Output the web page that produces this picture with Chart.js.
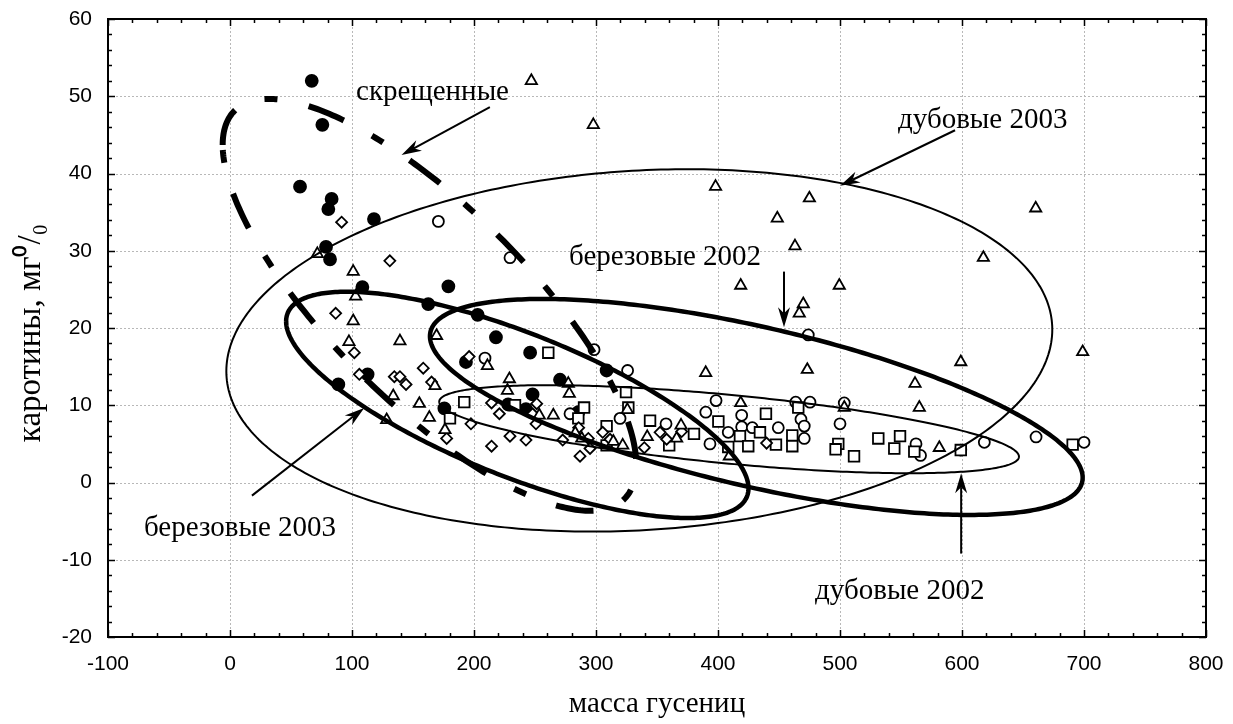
<!DOCTYPE html>
<html>
<head>
<meta charset="utf-8">
<script src="https://cdn.jsdelivr.net/npm/chart.js@4.4.1/dist/chart.umd.min.js"></script>
<style>
  html, body { margin: 0; padding: 0; background: #fff; }
</style>
</head>
<body>
<canvas id="chart" width="1233" height="724"></canvas>
<script>
// axis ticks
const xTicks = [-100, 0, 100, 200, 300, 400, 500, 600, 700, 800];
const yTicks = [-20, -10, 0, 10, 20, 30, 40, 50, 60];

// скрещенные (filled circles)
const crossedX = [67, 75.7, 57.4, 83.3, 80.6, 118, 78.7, 82, 108.5, 112.8, 88.8, 179, 162.5, 203, 218, 246, 193.4, 270.5, 248, 228, 242.6, 285.5, 175.7, 308.7];
const crossedY = [52, 46.3, 38.3, 36.7, 35.4, 34.1, 30.5, 28.9, 25.3, 14.0, 12.7, 25.4, 23.1, 21.7, 18.8, 16.8, 15.6, 13.3, 11.4, 10.1, 9.5, 9.1, 9.6, 14.5];

// open circles
const circleX = [170.8, 229.5, 209, 298.4, 325.9, 278.7, 319.7, 357.4, 398.4, 390, 408.4, 393.4, 419.4, 419.4, 428.1, 449.4, 463.7, 475.4, 468, 470.7, 470.7, 474, 503.5, 500, 562.3, 566, 618.3, 660.7, 700, 599];
const circleY = [33.8, 29.1, 16.1, 17.2, 14.5, 8.9, 8.3, 7.6, 10.6, 9.1, 6.5, 5.0, 8.7, 7.2, 7.1, 7.1, 10.4, 10.4, 8.2, 7.3, 5.7, 19.1, 10.3, 7.6, 5.0, 3.5, 5.2, 5.9, 5.2, 4.2];

// open squares
const squareX = [260.9, 192, 180.3, 233.6, 290.2, 285.5, 324.6, 326.5, 308.7, 308.7, 344.3, 380.3, 360, 400.3, 408.4, 418, 424.8, 434.4, 439.3, 447.5, 460.9, 460.9, 465.8, 498.6, 496.4, 511.5, 531.4, 549.2, 544.5, 560.9, 599, 690.7];
const squareY = [16.8, 10.4, 8.3, 10.0, 9.7, 8.3, 11.7, 9.7, 7.3, 4.8, 8.0, 6.3, 4.8, 7.9, 4.6, 6.0, 4.7, 6.5, 8.9, 4.9, 6.1, 4.7, 9.7, 5.0, 4.3, 3.4, 5.7, 6.0, 4.4, 4.0, 4.2, 4.9];

// open diamonds
const diamondX = [91.5, 131, 86.6, 101.9, 106, 134.7, 139.3, 144.3, 158.4, 165.2, 196, 177.6, 197.5, 214.4, 214.4, 220.8, 229.5, 242.6, 251.4, 250.8, 248, 272.7, 285.8, 286.9, 295.1, 293.7, 305.5, 311.5, 339.6, 352.5, 357.9, 370.2, 439.8];
const diamondY = [33.7, 28.7, 21.9, 16.8, 14.0, 13.7, 13.7, 12.7, 14.8, 13.0, 16.3, 5.7, 7.6, 4.7, 10.3, 8.9, 6.0, 5.5, 10.2, 7.6, 8.9, 5.5, 7.1, 3.4, 4.4, 5.7, 6.5, 5.6, 4.5, 6.5, 5.6, 6.6, 5.1];

// open triangles
const triangleX = [247, 297.8, 398, 474.9, 448.6, 463.1, 660.4, 617.5, 418.6, 469.9, 466.6, 473.2, 389.9, 418.6, 169.3, 139.3, 211, 229, 227.4, 277.3, 278.1, 168, 155.2, 163.4, 176.2, 253.5, 265, 325.7, 283, 288.3, 314.2, 321.9, 342, 369.7, 366.1, 409.3, 71.6, 101, 103, 101, 97.5, 133.8, 128.4, 499.4, 698.9, 599, 561.5, 565, 503.5, 581.4];
const triangleY = [52.0, 46.3, 38.3, 36.8, 34.2, 30.6, 35.5, 29.1, 25.5, 23.1, 21.9, 14.6, 14.2, 10.3, 19.0, 18.3, 15.1, 13.4, 11.9, 12.8, 11.5, 12.5, 10.2, 8.4, 6.8, 8.7, 8.7, 9.4, 6.4, 5.7, 5.3, 4.8, 5.9, 7.4, 5.7, 3.4, 29.6, 27.3, 24.1, 20.9, 18.2, 11.2, 8.1, 25.5, 16.9, 15.6, 12.8, 9.7, 9.7, 4.5];

// confidence ellipses: centre and two conjugate half-axes (data units)
const ellipseNames  = ['дубовые 2003', 'дубовые 2002', 'березовые 2003', 'березовые 2002', 'скрещенные'];
const ellipseCenter = [[335.5, 17.1], [409.1, 6.9], [235.5, 10.05], [431.4, 9.78], [163.5, 23.0]];
const ellipseAxisU  = [[338.5, 2.7], [237.6, -3.55], [189.5, -10.8], [267.5, -9.15], [169.5, -20.7]];
const ellipseAxisV  = [[0, 23.3], [0, 4.46], [0, 9.9], [0, 10.57], [0, 16.8]];
const ellipseWidth  = [2, 2, 4.5, 4.5, 6];

// annotations: label position and arrow (from -> to)
const labelText = ['скрещенные', 'дубовые 2003', 'березовые 2002', 'березовые 2003', 'дубовые 2002'];
const labelX = [166, 617, 356.6, 8.2, 549];
const labelY = [49.5, 45.9, 28.2, -6.9, -15.1];
const arrowFrom = [[213, 48.6], [594.3, 45.6], [454.1, 27.3], [18, -1.7], [599.3, -9.2]];
const arrowTo   = [[140.6, 42.4], [500, 38.4], [454.1, 20.1], [110, 9.65], [599.3, 1.2]];

function pts(xs, ys) {
    return xs.map((v, i) => ({ x: v, y: ys[i] }));
}

function drawEllipse(chart, i) {
    const ctx = chart.ctx;
    const sx = chart.scales.x, sy = chart.scales.y;
    const c = ellipseCenter[i], u = ellipseAxisU[i], v = ellipseAxisV[i];
    ctx.beginPath();
    const n = 360;
    for (let k = 0; k <= n; k++) {
        const t = Math.PI - k / n * 2 * Math.PI;
        const px = sx.getPixelForValue(c[0] + u[0] * Math.cos(t) + v[0] * Math.sin(t));
        const py = sy.getPixelForValue(c[1] + u[1] * Math.cos(t) + v[1] * Math.sin(t));
        if (k === 0) ctx.moveTo(px, py); else ctx.lineTo(px, py);
    }
    ctx.lineWidth = ellipseWidth[i];
    ctx.strokeStyle = '#000';
    if (ellipseNames[i] === 'скрещенные') {
        ctx.setLineDash([38, 32, 13, 32]);
        ctx.lineCap = 'butt';
    } else {
        ctx.setLineDash([]);
    }
    ctx.stroke();
    ctx.setLineDash([]);
}

function drawArrow(ctx, x0, y0, x1, y1) {
    const a = Math.atan2(y1 - y0, x1 - x0);
    const dx = Math.cos(a), dy = Math.sin(a);
    const L = 20, W = 6, N = 14;
    ctx.beginPath();
    ctx.moveTo(x0, y0);
    ctx.lineTo(x1 - dx * N, y1 - dy * N);
    ctx.lineWidth = 2;
    ctx.stroke();
    ctx.beginPath();
    ctx.moveTo(x1, y1);
    ctx.lineTo(x1 - dx * L - dy * W, y1 - dy * L + dx * W);
    ctx.lineTo(x1 - dx * N, y1 - dy * N);
    ctx.lineTo(x1 - dx * L + dy * W, y1 - dy * L - dx * W);
    ctx.closePath();
    ctx.fill();
}

const decorations = {
    id: 'decorations',
    beforeDatasetsDraw(chart) {
        const { ctx, chartArea: a, scales: { x, y } } = chart;
        ctx.save();
        ctx.strokeStyle = '#b8b8b8';
        ctx.lineWidth = 1;
        ctx.setLineDash([2, 2]);
        xTicks.forEach(v => {
            const px = Math.round(x.getPixelForValue(v)) + 0.5;
            ctx.beginPath(); ctx.moveTo(px, a.top); ctx.lineTo(px, a.bottom); ctx.stroke();
        });
        yTicks.forEach(v => {
            const py = Math.round(y.getPixelForValue(v)) + 0.5;
            ctx.beginPath(); ctx.moveTo(a.left, py); ctx.lineTo(a.right, py); ctx.stroke();
        });
        ctx.restore();
    },
    afterDatasetsDraw(chart) {
        const { ctx, chartArea: a, scales: { x, y } } = chart;
        ctx.save();
        for (let i = 0; i < ellipseNames.length; i++) drawEllipse(chart, i);

        ctx.fillStyle = '#000';
        ctx.strokeStyle = '#000';
        arrowFrom.forEach((f, i) => {
            drawArrow(ctx, x.getPixelForValue(f[0]), y.getPixelForValue(f[1]),
                x.getPixelForValue(arrowTo[i][0]), y.getPixelForValue(arrowTo[i][1]));
        });

        ctx.font = '29px "Liberation Serif", "Times New Roman", serif';
        ctx.textAlign = 'center';
        ctx.textBaseline = 'alphabetic';
        labelText.forEach((t, i) => {
            ctx.fillText(t, x.getPixelForValue(labelX[i]), y.getPixelForValue(labelY[i]));
        });

        // axis titles
        ctx.fillText('масса гусениц', (a.left + a.right) / 2, 712);
        ctx.save();
        ctx.translate(40, 333);
        ctx.rotate(-Math.PI / 2);
        ctx.font = '33px "Liberation Serif", "Times New Roman", serif';
        ctx.fillText('каротины, мг⁰/₀', 0, 0);
        ctx.restore();

        // frame with inward ticks
        ctx.lineWidth = 2;
        ctx.strokeRect(a.left, a.top, a.right - a.left, a.bottom - a.top);
        ctx.lineWidth = 1.5;
        for (let v = -100; v <= 800; v += 20) {
            const px = Math.round(x.getPixelForValue(v)) + 0.5;
            const len = v % 100 === 0 ? 7 : 4;
            ctx.beginPath();
            ctx.moveTo(px, a.bottom); ctx.lineTo(px, a.bottom - len);
            ctx.moveTo(px, a.top); ctx.lineTo(px, a.top + len);
            ctx.stroke();
        }
        for (let v = -20; v <= 60; v += 2) {
            const py = Math.round(y.getPixelForValue(v)) + 0.5;
            const len = v % 10 === 0 ? 7 : 4;
            ctx.beginPath();
            ctx.moveTo(a.left, py); ctx.lineTo(a.left + len, py);
            ctx.moveTo(a.right, py); ctx.lineTo(a.right - len, py);
            ctx.stroke();
        }
        ctx.restore();
    }
};

const markerBase = { borderColor: '#000', borderWidth: 1.8, backgroundColor: '#fff', showLine: false };

new Chart(document.getElementById('chart'), {
    type: 'scatter',
    data: {
        datasets: [
            Object.assign({}, markerBase, { label: 'дубовые 2003', data: pts(triangleX, triangleY), pointStyle: 'triangle', pointRadius: 6.5 }),
            Object.assign({}, markerBase, { label: 'березовые 2003', data: pts(diamondX, diamondY), pointStyle: 'rectRot', pointRadius: 5.5 }),
            Object.assign({}, markerBase, { label: 'дубовые 2002', data: pts(squareX, squareY), pointStyle: 'rect', pointRadius: 7.5 }),
            Object.assign({}, markerBase, { label: 'березовые 2002', data: pts(circleX, circleY), pointStyle: 'circle', pointRadius: 5.5 }),
            Object.assign({}, markerBase, { label: 'скрещенные', data: pts(crossedX, crossedY), pointStyle: 'circle', pointRadius: 6, backgroundColor: '#000' })
        ]
    },
    options: {
        responsive: false,
        animation: false,
        events: [],
        layout: { autoPadding: false, padding: { left: 0, top: 19, right: 27, bottom: 0 } },
        plugins: { legend: { display: false }, tooltip: { enabled: false } },
        scales: {
            x: {
                type: 'linear', min: -100, max: 800,
                afterFit: s => { s.height = 87; s.paddingLeft = 0; s.paddingRight = 0; },
                afterBuildTicks: s => { s.ticks = xTicks.map(v => ({ value: v })); },
                grid: { display: false, drawTicks: false },
                border: { display: false },
                ticks: { padding: 15, color: '#000', font: { family: 'Liberation Sans', size: 21 } }
            },
            y: {
                type: 'linear', min: -20, max: 60,
                afterFit: s => { s.width = 108; s.paddingTop = 0; s.paddingBottom = 0; },
                afterBuildTicks: s => { s.ticks = yTicks.map(v => ({ value: v })); },
                grid: { display: false, drawTicks: false },
                border: { display: false },
                ticks: { padding: 16, color: '#000', font: { family: 'Liberation Sans', size: 21 } }
            }
        }
    },
    plugins: [decorations]
});
</script>
</body>
</html>
